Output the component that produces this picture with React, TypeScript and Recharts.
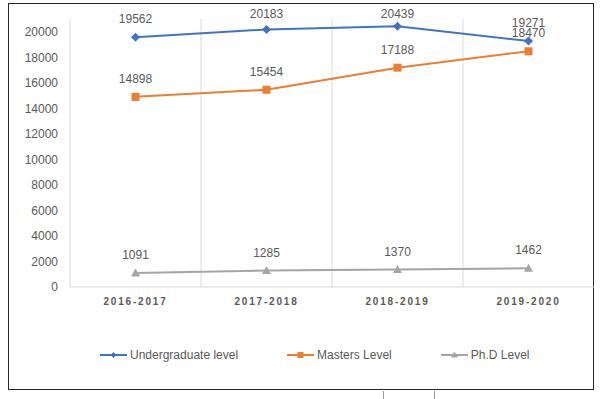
import React from 'react';
import { LineChart, Line, XAxis, YAxis, CartesianGrid, Legend, LabelList } from 'recharts';

const categories = ['2016-2017', '2017-2018', '2018-2019', '2019-2020'];
const undergraduate = [19562, 20183, 20439, 19271];
const masters = [14898, 15454, 17188, 18470];
const phd = [1091, 1285, 1370, 1462];
const yTicks = [0, 2000, 4000, 6000, 8000, 10000, 12000, 14000, 16000, 18000, 20000];

const data = categories.map((c, i) => ({
  year: c,
  ug: undergraduate[i],
  ms: masters[i],
  phd: phd[i],
}));

const BLUE = '#4472C4';
const ORANGE = '#ED7D31';
const GRAY = '#A5A5A5';
const TEXT = '#595959';
const FONT = '"Liberation Sans", Arial, sans-serif';

const diamond = (p: any) => (
  <path key={`d-${p.index}`} d={`M${p.cx},${p.cy - 4.5}L${p.cx + 4.5},${p.cy}L${p.cx},${p.cy + 4.5}L${p.cx - 4.5},${p.cy}Z`} fill={BLUE} />
);
const square = (p: any) => (
  <rect key={`s-${p.index}`} x={p.cx - 4} y={p.cy - 4} width={8} height={8} fill={ORANGE} />
);
const triangle = (p: any) => (
  <path key={`t-${p.index}`} d={`M${p.cx},${p.cy - 4.5}L${p.cx + 4.5},${p.cy + 3.5}L${p.cx - 4.5},${p.cy + 3.5}Z`} fill={GRAY} />
);

const PointLabel = (props: any) => {
  const x = props.x ?? props.viewBox?.x;
  const y = props.y ?? props.viewBox?.y;
  if (x == null || y == null) return null;
  return (
    <text x={x} y={Math.max(y - 14, 17.5)} textAnchor="middle" fill={TEXT} fontSize={12} fontFamily={FONT}>
      {props.value}
    </text>
  );
};

const legendItems = [
  { name: 'Undergraduate level', color: BLUE, shape: 'diamond' },
  { name: 'Masters Level', color: ORANGE, shape: 'square' },
  { name: 'Ph.D Level', color: GRAY, shape: 'triangle' },
];

const LegendContent = () => (
  <div style={{ display: 'flex', alignItems: 'center', gap: 49, fontFamily: FONT, fontSize: 12, color: TEXT }}>
    {legendItems.map((it) => (
      <div key={it.name} style={{ display: 'flex', alignItems: 'center' }}>
        <svg width={27} height={10} style={{ marginRight: 3 }}>
          <line x1={0} y1={5} x2={27} y2={5} stroke={it.color} strokeWidth={2} />
          {it.shape === 'diamond' && <path d="M13.5,2L16.5,5L13.5,8L10.5,5Z" fill={it.color} />}
          {it.shape === 'square' && <rect x={10.5} y={2} width={6} height={6} fill={it.color} />}
          {it.shape === 'triangle' && <path d="M13.5,1.5L17,7.5L10,7.5Z" fill={it.color} />}
        </svg>
        <span>{it.name}</span>
      </div>
    ))}
  </div>
);

const XTick = (props: any) => {
  const { x, y, payload } = props;
  return (
    <text x={x} y={y} dy="0.71em" textAnchor="middle" fill={TEXT} fontSize={10} fontWeight="bold" letterSpacing={1.8} fontFamily={FONT}>
      {payload.value}
    </text>
  );
};

export default function App() {
  return (
    <div style={{ position: 'fixed', left: 0, top: 0, width: 600, height: 399, background: '#fff' }}>
      <div style={{ position: 'absolute', left: 8, top: 3, width: 586, height: 387, border: '1.5px solid #262626', boxSizing: 'border-box' }} />
      <div style={{ position: 'absolute', left: 383, top: 391, width: 52, height: 8, borderLeft: '1px solid #999', borderRight: '1px solid #999', boxSizing: 'border-box' }} />
      <div style={{ position: 'absolute', left: 0, top: 0 }}>
        <LineChart
          width={600}
          height={399}
          data={data}
          margin={{ top: 19, right: 6, left: 30, bottom: 82 }}
          style={{ fontFamily: FONT }}
        >
          <CartesianGrid
            horizontal={false}
            stroke="#D9D9D9"
            strokeWidth={1}
            verticalCoordinatesGenerator={({ offset }: any) =>
              categories.map((_, i) => offset.left + (i * offset.width) / categories.length)
            }
          />
          <XAxis
            dataKey="year"
            scale="band"
            axisLine={{ stroke: '#D9D9D9', strokeWidth: 1 }}
            tickLine={false}
            tick={<XTick />}
            tickMargin={5}
            height={30}
            interval={0}
          />
          <YAxis
            domain={[0, 21000]}
            ticks={yTicks}
            axisLine={false}
            tickLine={false}
            tickMargin={6}
            width={40}
            interval={0}
            tick={{ fill: TEXT, fontSize: 12, fontFamily: FONT }}
          />
          <Legend
            layout="horizontal"
            verticalAlign="middle"
            align="center"
            content={<LegendContent />}
            wrapperStyle={{ top: 348, left: 100, width: 480 }}
          />
          <Line dataKey="ug" name="Undergraduate level" stroke={BLUE} strokeWidth={2} dot={diamond} activeDot={false} isAnimationActive={false}>
            <LabelList dataKey="ug" content={<PointLabel />} />
          </Line>
          <Line dataKey="ms" name="Masters Level" stroke={ORANGE} strokeWidth={2} dot={square} activeDot={false} isAnimationActive={false}>
            <LabelList dataKey="ms" content={<PointLabel />} />
          </Line>
          <Line dataKey="phd" name="Ph.D Level" stroke={GRAY} strokeWidth={2} dot={triangle} activeDot={false} isAnimationActive={false}>
            <LabelList dataKey="phd" content={<PointLabel />} />
          </Line>
        </LineChart>
      </div>
    </div>
  );
}
